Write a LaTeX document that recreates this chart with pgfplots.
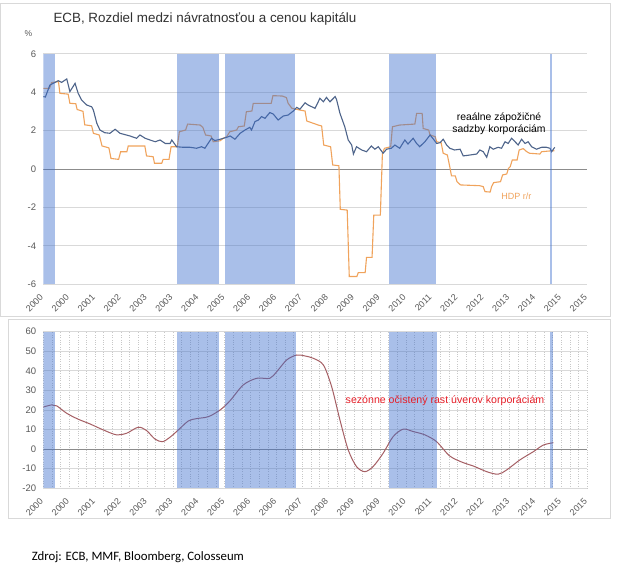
\documentclass[border=0pt]{standalone}
\usepackage{fontspec}
\setmainfont{Liberation Sans}
\newfontfamily\calibri{Carlito}
\usepackage{pgfplots}
\pgfplotsset{compat=1.18}
\definecolor{gridgray}{RGB}{217,217,217}
\definecolor{dotgray}{RGB}{200,200,200}
\definecolor{zerogray}{RGB}{140,140,140}
\definecolor{tickgray}{RGB}{89,89,89}
\definecolor{boxgray}{RGB}{217,217,217}
\definecolor{barblue}{RGB}{60,110,205}
\definecolor{lineblue}{RGB}{78,100,138}
\definecolor{lineorange}{RGB}{240,163,92}
\definecolor{lineloan}{RGB}{165,95,100}
\definecolor{redtext}{RGB}{230,30,40}
\definecolor{titlegray}{RGB}{50,50,50}

\pgfplotsset{
  myaxis/.style={
    anchor=south west, scale only axis, width=543.9bp,
    xmin=2000, xmax=2015.75,
    axis line style={draw=none}, tick style={draw=none},
    xtick={2000,2000.75,2001.5,2002.25,2003,2003.75,2004.5,2005.25,2006,2006.75,2007.5,2008.25,2009,2009.75,2010.5,2011.25,2012,2012.75,2013.5,2014.25,2015,2015.75},
    xticklabels={2000,2000,2001,2002,2003,2003,2004,2005,2006,2006,2007,2008,2009,2009,2010,2011,2012,2012,2013,2014,2015,2015},
    /pgf/number format/assume math mode=true,
    yticklabel style={font=\fontsize{9.5bp}{10bp}\selectfont, text=tickgray, anchor=east, inner sep=0pt, xshift=-7bp},
    xticklabel style={font=\fontsize{9bp}{9bp}\selectfont, text=tickgray, inner sep=0pt, xshift=-4bp, yshift=-9bp, rotate=45, anchor=north east},
    ymajorgrids,
    major y grid style={gridgray, line width=0.75bp},
  },
  bar/.style={draw=none, fill=barblue, fill opacity=0.44, forget plot},
}

\begin{document}
\begin{tikzpicture}
\path[fill=white] (0,0) rectangle (620bp,572bp);
\draw[boxgray, line width=0.75bp] (0.5bp,256bp) rectangle (610.7bp,569bp);
\draw[boxgray, line width=0.75bp] (8.7bp,53.7bp) rectangle (610.7bp,253bp);

% ---------------- top chart
\begin{axis}[myaxis,
  at={(43.3bp,287.8bp)}, height=230.4bp,
  ymin=-6, ymax=6, ytick={-6,-4,...,6},
]
\addplot[zerogray, line width=0.75bp, forget plot] coordinates {(2000,0) (2015.75,0)};
\addplot[lineorange, line width=1.1bp] coordinates {
(2000.00,4.20) (2000.18,4.20) (2000.24,4.50) (2000.44,4.55) (2000.48,3.94) (2000.72,3.90)
(2000.77,3.42) (2000.94,3.40) (2000.98,3.10) (2001.15,3.00) (2001.20,2.30) (2001.40,2.25)
(2001.45,1.86) (2001.62,1.77) (2001.70,1.20) (2001.90,1.10) (2001.96,0.55) (2002.18,0.50)
(2002.24,0.90) (2002.42,0.90) (2002.46,1.20) (2002.94,1.20) (2002.99,0.68) (2003.18,0.64)
(2003.22,0.30) (2003.43,0.30) (2003.47,0.50) (2003.64,0.50) (2003.70,1.16) (2003.88,1.16)
(2003.94,1.94) (2004.12,2.03) (2004.18,2.34) (2004.54,2.29) (2004.62,2.17) (2004.70,1.77)
(2004.86,1.72) (2004.92,1.42) (2005.12,1.47) (2005.21,1.60) (2005.31,1.68) (2005.40,1.94)
(2005.60,2.03) (2005.65,2.20) (2005.82,2.24) (2005.88,2.98) (2006.04,3.02) (2006.08,3.42)
(2006.60,3.42) (2006.65,3.82) (2006.92,3.80) (2007.04,3.72) (2007.09,3.42) (2007.20,3.16)
(2007.43,3.07) (2007.58,3.02) (2007.63,2.50) (2007.96,2.29) (2008.06,2.24) (2008.12,1.25)
(2008.32,1.16) (2008.38,0.21) (2008.56,0.17) (2008.60,-2.10) (2008.80,-2.14) (2008.86,-5.60)
(2009.08,-5.60) (2009.12,-5.40) (2009.32,-5.40) (2009.36,-4.60) (2009.52,-4.60) (2009.57,-2.40)
(2009.76,-2.40) (2009.82,0.82) (2009.88,1.08) (2010.06,1.16) (2010.11,2.20) (2010.32,2.29)
(2010.76,2.34) (2010.81,2.90) (2010.97,2.90) (2011.00,2.11) (2011.16,2.03) (2011.20,1.77)
(2011.35,1.68) (2011.39,1.42) (2011.52,1.37) (2011.58,0.82) (2011.70,0.73) (2011.77,0.12)
(2011.82,-0.36) (2011.93,-0.36) (2011.98,-0.66) (2012.08,-0.83) (2012.64,-0.87) (2012.74,-0.92)
(2012.79,-1.18) (2012.94,-1.20) (2012.98,-0.92) (2013.04,-0.71) (2013.24,-0.66) (2013.30,-0.31)
(2013.42,-0.26) (2013.47,0.03) (2013.52,0.12) (2013.58,0.47) (2013.72,0.47) (2013.78,0.99)
(2013.90,1.06) (2014.00,0.90) (2014.08,0.82) (2014.38,0.78) (2014.43,0.90) (2014.67,0.94)
(2014.80,0.95)
};
\addplot[lineblue, line width=1.1bp] coordinates {
(2000.00,3.77) (2000.06,3.75) (2000.19,4.37) (2000.34,4.51) (2000.43,4.60) (2000.53,4.51)
(2000.68,4.69) (2000.77,4.03) (2000.92,4.46) (2001.01,3.94) (2001.11,3.59) (2001.26,3.33)
(2001.40,3.24) (2001.45,3.07) (2001.55,2.38) (2001.64,2.03) (2001.78,1.89) (2001.93,1.86)
(2002.08,2.07) (2002.22,1.86) (2002.51,1.72) (2002.70,1.60) (2002.80,1.77) (2002.95,1.60)
(2003.09,1.51) (2003.24,1.42) (2003.38,1.51) (2003.53,1.33) (2003.67,1.33) (2003.72,1.51)
(2003.86,1.16) (2004.05,1.13) (2004.25,1.13) (2004.44,1.08) (2004.58,1.16) (2004.68,1.08)
(2004.87,1.60) (2004.97,1.48) (2005.12,1.55) (2005.31,1.65) (2005.41,1.72) (2005.55,1.55)
(2005.70,1.86) (2005.84,2.03) (2005.98,2.17) (2006.03,2.03) (2006.13,2.47) (2006.23,2.55)
(2006.32,2.73) (2006.42,2.64) (2006.56,2.94) (2006.66,2.86) (2006.80,2.55) (2006.95,2.76)
(2007.09,2.81) (2007.24,3.02) (2007.34,3.21) (2007.43,3.11) (2007.58,3.45) (2007.67,3.33)
(2007.87,3.16) (2008.01,3.68) (2008.11,3.50) (2008.20,3.73) (2008.30,3.50) (2008.45,3.77)
(2008.49,3.63) (2008.59,2.90) (2008.73,2.20) (2008.83,1.51) (2008.93,1.25) (2008.98,0.78)
(2009.07,1.16) (2009.22,0.99) (2009.36,0.90) (2009.50,1.20) (2009.60,1.03) (2009.70,1.16)
(2009.84,0.82) (2009.94,1.03) (2010.08,1.08) (2010.18,1.25) (2010.32,1.08) (2010.47,1.51)
(2010.56,1.30) (2010.71,1.60) (2010.81,1.33) (2010.90,1.16) (2011.05,1.42) (2011.20,1.77)
(2011.30,1.55) (2011.39,1.33) (2011.49,1.37) (2011.58,1.55) (2011.68,1.25) (2011.77,1.08)
(2011.91,0.99) (2012.07,1.03) (2012.16,0.68) (2012.36,0.73) (2012.55,0.78) (2012.64,0.99)
(2012.74,0.90) (2012.84,0.61) (2012.93,1.16) (2013.03,1.03) (2013.17,1.13) (2013.27,1.08)
(2013.37,1.42) (2013.46,1.33) (2013.56,1.60) (2013.66,1.42) (2013.75,1.25) (2013.85,1.55)
(2013.95,1.33) (2014.04,1.42) (2014.14,1.16) (2014.28,1.03) (2014.43,1.13) (2014.57,1.13)
(2014.67,1.08) (2014.72,0.90) (2014.81,1.13)
};
\addplot[bar] coordinates {(2000.00,-6) (2000.00,6) (2000.33,6) (2000.33,-6)} -- cycle;
\addplot[bar] coordinates {(2003.86,-6) (2003.86,6) (2005.09,6) (2005.09,-6)} -- cycle;
\addplot[bar] coordinates {(2005.25,-6) (2005.25,6) (2007.30,6) (2007.30,-6)} -- cycle;
\addplot[bar] coordinates {(2010.00,-6) (2010.00,6) (2011.38,6) (2011.38,-6)} -- cycle;
\addplot[bar] coordinates {(2014.67,-6) (2014.67,6) (2014.74,6) (2014.74,-6)} -- cycle;
\end{axis}

% ---------------- bottom chart
\begin{axis}[myaxis,
  at={(43.3bp,83.7bp)}, height=156.6bp,
  ymin=-20, ymax=60, ytick={-20,-10,...,60},
  minor x tick num=2, xmajorgrids, xminorgrids,
  major x grid style={dotgray, dotted, line width=0.5bp},
  minor x grid style={dotgray, dotted, line width=0.5bp},
]
\addplot[zerogray, line width=0.75bp, forget plot] coordinates {(2000,0) (2015.75,0)};
\addplot[lineloan, line width=1.0bp, smooth, tension=0.5] coordinates {
(2000.00,21.5) (2000.24,22.6) (2000.39,22.1) (2000.68,18.3) (2001.01,15.3) (2001.35,12.9)
(2001.74,9.8) (2002.12,7.3) (2002.41,8.1) (2002.75,11.2) (2002.99,9.5) (2003.23,5.2)
(2003.45,3.8) (2003.67,6.1) (2003.91,9.8) (2004.20,14.4) (2004.44,15.6) (2004.78,16.6)
(2005.12,20.0) (2005.41,24.8) (2005.79,32.8) (2006.18,36.2) (2006.56,36.2) (2006.76,39.6)
(2007.05,45.6) (2007.34,48.1) (2007.58,47.6) (2007.82,46.4) (2008.11,43.0) (2008.35,31.9)
(2008.59,14.9) (2008.83,-0.4) (2009.07,-8.9) (2009.31,-11.5) (2009.55,-8.9) (2009.84,-2.1)
(2010.13,6.4) (2010.42,10.2) (2010.71,9.0) (2011.05,7.3) (2011.39,3.8) (2011.77,-3.5)
(2012.16,-6.9) (2012.45,-8.6) (2012.84,-11.5) (2013.17,-12.8) (2013.42,-10.6) (2013.80,-5.5)
(2014.19,-1.3) (2014.48,2.1) (2014.77,3.3)
};
\addplot[bar] coordinates {(2000.00,-20) (2000.00,60) (2000.35,60) (2000.35,-20)} -- cycle;
\addplot[bar] coordinates {(2003.87,-20) (2003.87,60) (2005.10,60) (2005.10,-20)} -- cycle;
\addplot[bar] coordinates {(2005.26,-20) (2005.26,60) (2007.31,60) (2007.31,-20)} -- cycle;
\addplot[bar] coordinates {(2010.01,-20) (2010.01,60) (2011.39,60) (2011.39,-20)} -- cycle;
\addplot[bar] coordinates {(2014.68,-20) (2014.68,60) (2014.75,60) (2014.75,-20)} -- cycle;
\end{axis}

% ---------------- texts
\node[anchor=base west, inner sep=0pt, text=titlegray, font=\fontsize{13.4bp}{15bp}\selectfont] at (53.3bp,549.3bp) {ECB, Rozdiel medzi návratnosťou a cenou kapitálu};
\node[inner sep=0pt, text=tickgray, font=\fontsize{8.5bp}{9bp}\selectfont] at (28.4bp,538.3bp) {\%};
\node[inner sep=0pt, align=center, text=black, font=\fontsize{10.4bp}{12bp}\selectfont] at (499bp,448bp) {reaálne zápožičné\\sadzby korporáciám};
\node[inner sep=0pt, text=lineorange, font=\fontsize{9bp}{10bp}\selectfont] at (516.3bp,375.5bp) {HDP r/r};
\node[inner sep=0pt, text=redtext, font=\fontsize{10.6bp}{12bp}\selectfont] at (445bp,171bp) {sezónne očistený rast úverov korporáciám};
\node[anchor=base west, inner sep=0pt, text=black, font=\calibri\fontsize{12.8bp}{14bp}\selectfont] at (31.6bp,12bp) {Zdroj: ECB, MMF, Bloomberg, Colosseum};
\end{tikzpicture}
\end{document}
